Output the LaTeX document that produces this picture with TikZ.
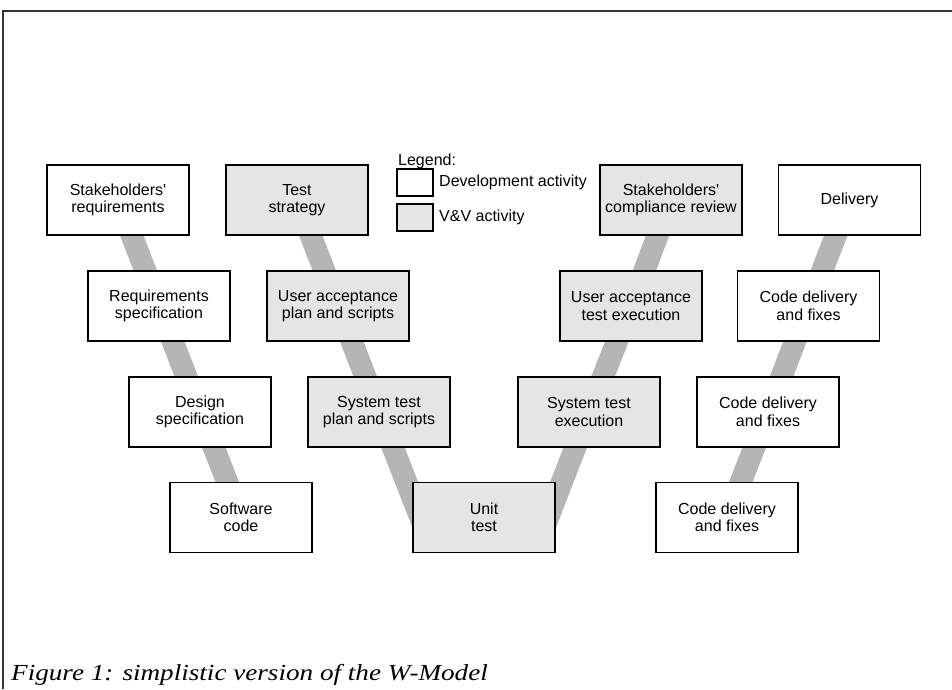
\documentclass[tikz,border=0pt]{standalone}
\usepackage{fontspec}
\setmainfont{Liberation Sans}
\newfontfamily\straightsans[Ligatures=TeXOff]{Liberation Sans}
\newfontfamily\capfont{Liberation Serif}
\usetikzlibrary{backgrounds}
\definecolor{vvfill}{gray}{0.9}
\definecolor{bandgray}{gray}{0.71}
\definecolor{framegray}{gray}{0.2}
\newcommand{\apo}{{\straightsans '}}
\tikzset{
  act/.style={draw=black, line width=1.4pt, minimum width=142pt, minimum height=70pt,
    align=center, inner sep=0pt, font=\fontsize{16}{17.5}\selectfont},
  dev/.style={act, fill=white},
  vv/.style={act, fill=vvfill},
  legbox/.style={draw=black, line width=1.2pt, minimum width=36pt, minimum height=27pt, inner sep=0pt},
  legtext/.style={anchor=west, inner sep=0pt, font=\fontsize{16}{17.5}\selectfont},
  band/.style={draw=bandgray, line width=22pt, line cap=butt}
}
\begin{document}
\begin{tikzpicture}[x=1pt, y=-1pt]
\useasboundingbox (0,0) rectangle (952,689);
% frame
\coordinate (ftr) at (952,11);
\coordinate (ftl) at (3,11);
\coordinate (fbl) at (3,689);
\draw[framegray, line width=1.5pt] (ftr) -- (ftl) -- (fbl);

% development chain (left)
\node[dev] (sr) at (118,200) {Stakeholders\apo\\requirements};
\node[dev] (rs) at (159,306) {Requirements\\specification};
\node[dev] (ds) at (200,412) {Design\\specification};
\node[dev] (sc) at (241,517.5) {Software\\code};

% V&V left arm
\node[vv] (ts) at (297,200) {Test\\strategy};
\node[vv] (uap) at (338,306) {User acceptance\\plan and scripts};
\node[vv] (stp) at (379,412) {System test\\plan and scripts};
\node[vv] (ut) at (484,517.5) {Unit\\test};

% V&V right arm
\node[vv] (scr) at (671,200) {Stakeholders\apo\\compliance review};
\node[vv] (uae) at (631,306) {User acceptance\\test execution};
\node[vv] (ste) at (589,412) {System test\\execution};

% delivery chain (right)
\node[dev] (del) at (849.5,200) {Delivery};
\node[dev] (cd1) at (808.5,306) {Code delivery\\and fixes};
\node[dev] (cd2) at (768,412) {Code delivery\\and fixes};
\node[dev] (cd3) at (727,517.5) {Code delivery\\and fixes};

\coordinate (vl) at (431,545);
\coordinate (vr) at (537.5,545);

\begin{pgfonlayer}{background}
\draw[band] (sr.center) -- (rs.center) -- (ds.center) -- (sc.center);
\draw[band] (ts.center) -- (uap.center) -- (stp.center) -- (vl);
\draw[band] (scr.center) -- (uae.center) -- (ste.center) -- (vr);
\draw[band] (del.center) -- (cd1.center) -- (cd2.center) -- (cd3.center);
\end{pgfonlayer}

% legend
\node[legtext, anchor=base west] (leg) at (398,165) {Legend:};
\node[legbox, fill=white] (lb1) at (415,182.5) {};
\node[legbox, fill=vvfill] (lb2) at (415,217.5) {};
\node[legtext] (lt1) at (439,182) {Development activity};
\node[legtext] (lt2) at (439,217) {V\&V activity};

% caption
\node[anchor=base west, inner sep=0pt, font=\capfont\itshape\fontsize{23}{26}\selectfont] (cap) at (11,680) {\scalebox{1.18}[1]{Figure 1: simplistic version of the W-Model}};
\end{tikzpicture}
\end{document}
